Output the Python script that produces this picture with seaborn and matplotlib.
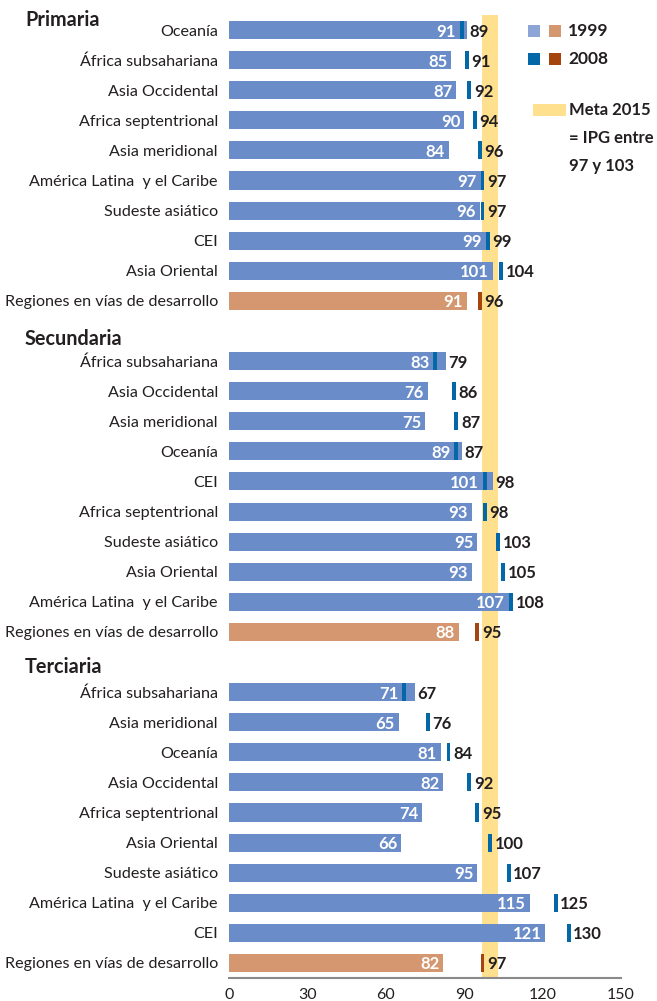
import matplotlib
matplotlib.use("Agg")
import matplotlib.pyplot as plt
from matplotlib.patches import Rectangle
import seaborn as sns
import pandas as pd

# ---------------- data ----------------
sections = ["Primaria", "Secundaria", "Terciaria"]

prim_regions = ["Oceanía", "África subsahariana", "Asia Occidental", "Africa septentrional",
                "Asia meridional", "América Latina  y el Caribe", "Sudeste asiático", "CEI",
                "Asia Oriental", "Regiones en vías de desarrollo"]
prim_1999 = [91, 85, 87, 90, 84, 97, 96, 99, 101, 91]
prim_2008 = [89, 91, 92, 94, 96, 97, 97, 99, 104, 96]

sec_regions = ["África subsahariana", "Asia Occidental", "Asia meridional", "Oceanía", "CEI",
               "Africa septentrional", "Sudeste asiático", "Asia Oriental",
               "América Latina  y el Caribe", "Regiones en vías de desarrollo"]
sec_1999 = [83, 76, 75, 89, 101, 93, 95, 93, 107, 88]
sec_2008 = [79, 86, 87, 87, 98, 98, 103, 105, 108, 95]

ter_regions = ["África subsahariana", "Asia meridional", "Oceanía", "Asia Occidental",
               "Africa septentrional", "Asia Oriental", "Sudeste asiático",
               "América Latina  y el Caribe", "CEI", "Regiones en vías de desarrollo"]
ter_1999 = [71, 65, 81, 82, 74, 66, 95, 115, 121, 82]
ter_2008 = [67, 76, 84, 92, 95, 100, 107, 125, 130, 97]

goal_range = [97, 103]
x_ticks = [0, 30, 60, 90, 120, 150]
legend_years = ["1999", "2008"]
legend_goal = ["Meta 2015", "= IPG entre", "97 y 103"]

# ---------------- styling ----------------
C_BLUE = "#6A8CC8"
C_BLUE_LEG = "#8CA4D6"
C_DBLUE = "#0467A8"
C_ORANGE = "#D4976F"
C_DORANGE = "#A4440E"
C_YELLOW = "#FEE08F"
C_TEXT = "#231F20"

sns.set_theme(style="white")
plt.rcParams["font.family"] = ["Lato", "DejaVu Sans"]

# build long table with one categorical slot per row (plus header slots)
rows = []
order = []
header_keys = []
for sec, regs, v99, v08 in [("Primaria", prim_regions, prim_1999, prim_2008),
                            ("Secundaria", sec_regions, sec_1999, sec_2008),
                            ("Terciaria", ter_regions, ter_1999, ter_2008)]:
    hk = f"{sec}|__header__"
    order.append(hk)
    header_keys.append(hk)
    for r, a, b in zip(regs, v99, v08):
        key = f"{sec}|{r}"
        order.append(key)
        kind = "dev" if r.startswith("Regiones") else "reg"
        rows.append(dict(key=key, region=r, v1999=a, v2008=b, kind=kind))
df = pd.DataFrame(rows)

fig = plt.figure(figsize=(6.57, 10.01), dpi=100)
W, H = 657, 1001
ax = fig.add_axes([229 / W, 23 / H, 392 / W, 963 / H])

ax.axvspan(goal_range[0], goal_range[1], color=C_YELLOW, zorder=0, lw=0)

sns.barplot(data=df, x="v1999", y="key", hue="kind", order=order,
            palette={"reg": C_BLUE, "dev": C_ORANGE}, orient="h",
            width=0.6, dodge=False, legend=False, ax=ax, zorder=2,
            saturation=1, linewidth=0)

pos = {k: i for i, k in enumerate(order)}
for _, r in df.iterrows():
    y = pos[r["key"]]
    mc = C_DORANGE if r["kind"] == "dev" else C_DBLUE
    ax.barh(y, 1.5, left=r["v2008"] - 0.75, height=0.6, color=mc, zorder=3, lw=0)
    # 1999 label (inside bar, white)
    xr = min(r["v1999"], r["v2008"] - 0.75) - 1.5
    ax.text(xr, y + 0.05, f"{r['v1999']}", ha="right", va="center", color="white",
            fontsize=12, fontweight="bold", zorder=4)
    # 2008 label
    xl = max(r["v1999"], r["v2008"] + 0.75) + 1.0
    ax.text(xl, y + 0.05, f"{r['v2008']}", ha="left", va="center", color=C_TEXT,
            fontsize=12, fontweight="bold", zorder=4)

# y tick labels
ax.set_yticks(range(len(order)))
labels = ["" if k in header_keys else k.split("|", 1)[1] for k in order]
ax.set_yticklabels(labels, fontsize=11.6, color=C_TEXT)
ax.tick_params(axis="y", length=0, pad=8)
ax.set_ylim(32.5, 0.5)
ax.set_ylabel("")

# section headers
tr = matplotlib.transforms.blended_transform_factory(fig.transFigure, ax.transData)
for sec, yy in zip(sections, [0.68, 11.27, 22.15]):
    ax.text(25 / W, yy, sec, transform=tr,
            ha="left", va="center", fontsize=14.3, fontweight="bold", color=C_TEXT)

# x axis
ax.set_xlim(0, 150)
ax.set_xticks(x_ticks)
ax.set_xticklabels([str(t) for t in x_ticks], fontsize=11.5, color=C_TEXT)
ax.tick_params(axis="x", length=0, pad=7)
ax.set_xlabel("")
for s in ["top", "right", "left"]:
    ax.spines[s].set_visible(False)
ax.spines["bottom"].set_color("#8A8A8A")
ax.spines["bottom"].set_linewidth(1.5)
ax.spines["bottom"].set_zorder(5)


def fx(x):
    return x / W


def fy(y):
    return 1 - y / H


# legend
for (c1, c2), txt, yc in zip([(C_BLUE_LEG, C_ORANGE), (C_DBLUE, C_DORANGE)], legend_years, [31, 59]):
    fig.add_artist(Rectangle((fx(528), fy(yc + 6)), 12 / W, 12 / H, color=c1, lw=0))
    fig.add_artist(Rectangle((fx(549), fy(yc + 6)), 12 / W, 12 / H, color=c2, lw=0))
    fig.text(fx(568), fy(yc), txt, ha="left", va="center", fontsize=12.5,
             fontweight="bold", color=C_TEXT)

fig.add_artist(Rectangle((fx(533), fy(116)), 33 / W, 12 / H, color=C_YELLOW, lw=0))
for txt, yc in zip(legend_goal, [110, 138, 166]):
    fig.text(fx(569), fy(yc), txt, ha="left", va="center", fontsize=12,
             fontweight="bold", color=C_TEXT)

fig.savefig("out.png", dpi=100, facecolor="white")
